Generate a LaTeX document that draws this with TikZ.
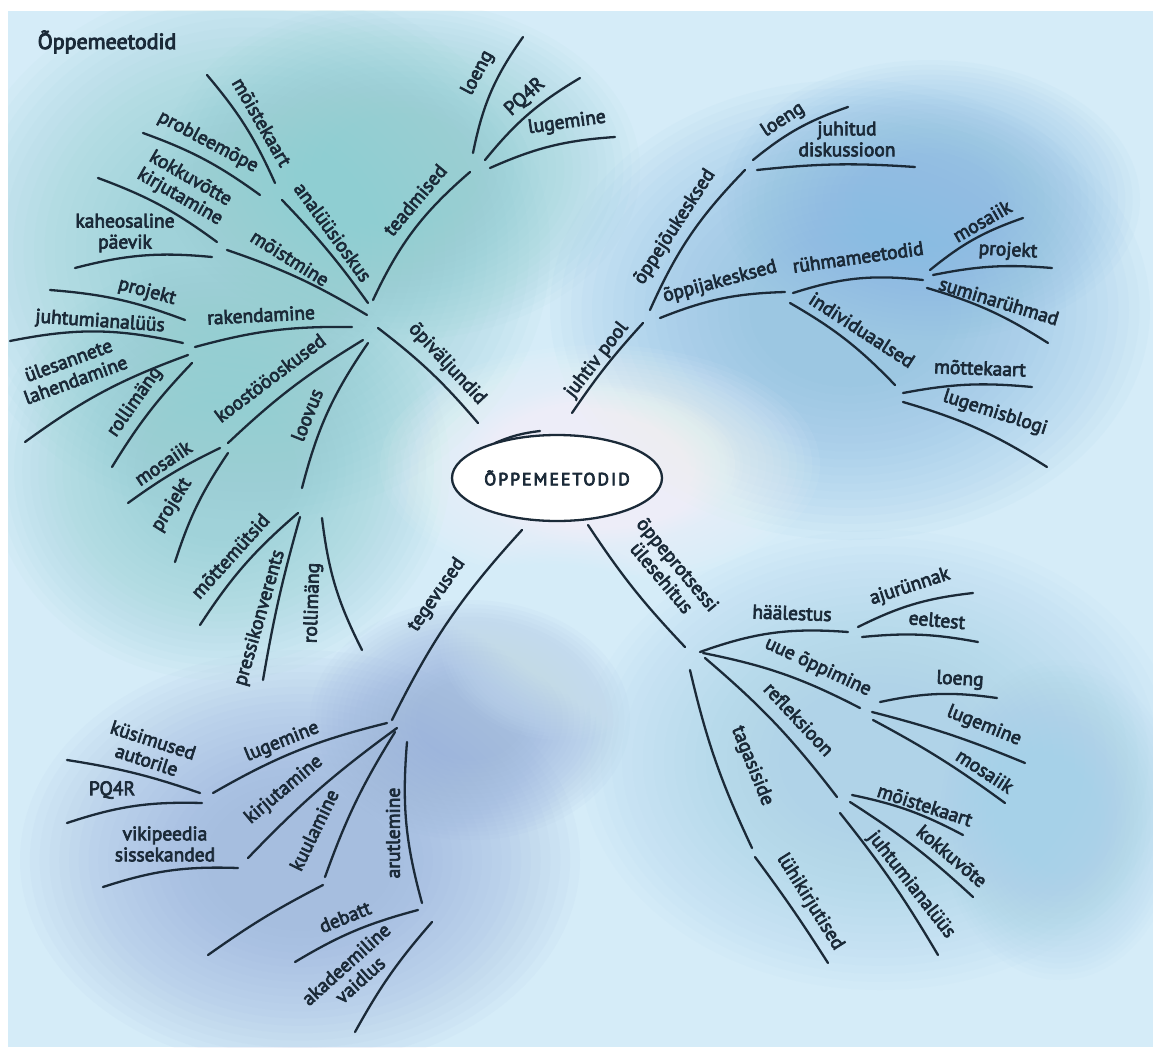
\documentclass[tikz,border=0pt]{standalone}
\usepackage{fontspec}
\setmainfont{PT Sans}[FakeBold=3.6]
\newfontfamily\titlefont{PT Sans}[FakeBold=4]
\newfontfamily\centrefont{PT Sans}[FakeBold=4.4, LetterSpace=12]
\usetikzlibrary{shapes.geometric}
\definecolor{ink}{HTML}{1B2A38}
\definecolor{bgbase}{HTML}{D5ECF8}
\definecolor{teal}{HTML}{8FCED2}
\definecolor{blueur}{HTML}{8ABCE2}
\definecolor{bluell}{HTML}{98B0DC}
\definecolor{bluelr}{HTML}{A6D1E8}
\newcommand\wblob[5]{\foreach \s in {1.0,0.965,...,0.3}{\fill[#5, opacity=0.055] (#1,#2) ellipse[x radius=\s*#3, y radius=\s*#4];}}
\newcommand\br[4]{\coordinate (#1s) at #2; \coordinate (#1e) at #3; \draw[brline] (#1s) to[#4] (#1e);}
\newcommand\lb[4]{\node[lbl, rotate=#3] (#1) at #2 {#4};}
\tikzset{
  brline/.style={draw=ink, line width=2.3pt, line cap=round},
  lbl/.style={font=\fontsize{19.5}{21}\selectfont, text=ink, inner sep=0pt, align=center},
}
\begin{document}
\begin{tikzpicture}[x=1pt,y=-1pt]
\useasboundingbox (0,0) rectangle (1153,1049);
\fill[white] (0,0) rectangle (1153,1049);
\fill[bgbase] (8,11) rectangle (1153,1047);
\begin{scope}
\clip (8,11) rectangle (1153,1047);
\wblob{250}{250}{300}{270}{teal}
\wblob{400}{170}{240}{170}{teal}
\wblob{220}{470}{230}{210}{teal}
\wblob{850}{310}{300}{230}{blueur}
\wblob{930}{200}{210}{140}{blueur}
\wblob{300}{860}{280}{210}{bluell}
\wblob{470}{720}{160}{120}{bluell}
\wblob{880}{760}{300}{230}{bluelr}
\wblob{1060}{820}{120}{160}{bluelr}
\wblob{600}{465}{220}{120}{white}
\wblob{600}{465}{140}{80}{white}
\wblob{560}{640}{120}{100}{bgbase}
\end{scope}

% title
\node[font=\titlefont\fontsize{22}{24}\selectfont, text=ink, inner sep=0pt] (title) at (107,42) {Õppemeetodid};

% centre
\node[ellipse, draw=ink, line width=2.3pt, fill=white, minimum width=210pt, minimum height=86pt, inner sep=0pt,
      font=\centrefont\fontsize{17.5}{19}\selectfont, text=ink] (C) at (557,478) {ÕPPEMEETODID};
\coordinate (ex1) at (495,443);
\coordinate (ex2) at (540,431);
\draw[brline] (ex1) to[bend left=8] (ex2);

% upper-left cluster
\br{t}{(373,300)}{(470,172)}{bend left=12}
\br{tl}{(473,153)}{(523,37)}{bend left=12}
\br{tp}{(485,160)}{(580,78)}{bend left=10}
\br{tg}{(490,168)}{(615,137)}{bend left=10}
\br{an}{(368,303)}{(282,200)}{bend right=4}
\br{amk}{(275,183)}{(207,75)}{bend right=8}
\br{apr}{(260,195)}{(143,133)}{bend right=8}
\br{mo}{(367,315)}{(227,250)}{bend right=6}
\br{mkk}{(217,242)}{(98,178)}{bend right=8}
\br{mkp}{(212,257)}{(75,268)}{bend right=10}
\br{ra}{(352,327)}{(195,347)}{bend right=8}
\br{rpr}{(185,320)}{(50,290)}{bend right=8}
\br{rju}{(183,343)}{(10,341)}{bend right=12}
\br{rul}{(188,355)}{(25,442)}{bend right=8}
\br{rro}{(192,363)}{(112,467)}{bend right=6}
\br{ko}{(363,340)}{(228,443)}{bend right=6}
\br{kmo}{(220,448)}{(128,503)}{bend right=5}
\br{kpr}{(228,453)}{(175,562)}{bend right=8}
\br{lo}{(368,343)}{(302,488)}{bend right=10}
\br{lmm}{(298,513)}{(200,625)}{bend right=8}
\br{lpk}{(300,517)}{(263,680)}{bend right=3}
\br{lro}{(322,518)}{(362,650)}{bend right=10}
\br{op}{(378,328)}{(478,423)}{bend left=6}

\lb{Lt}{(415,200)}{50}{teadmised}
\lb{Ltl}{(478,73)}{62}{loeng}
\lb{Ltp}{(525,97)}{42}{PQ4R}
\lb{Ltg}{(567,123)}{8}{lugemine}
\lb{Lan}{(333,232)}{-54}{analüüsioskus}
\lb{Lamk}{(262,122)}{-60}{mõistekaart}
\lb{Lapr}{(208,142)}{-28}{probleemõpe}
\lb{Lmo}{(290,258)}{-32}{mõistmine}
\lb{Lmkk}{(185,188)}{-30}{kokkuvõtte\\kirjutamine}
\lb{Lmkp}{(125,233)}{0}{kaheosaline\\päevik}
\lb{Lra}{(261,315)}{3}{rakendamine}
\lb{Lrpr}{(147,292)}{-15}{projekt}
\lb{Lrju}{(100,322)}{-4}{juhtumianalüüs}
\lb{Lrul}{(72,370)}{20}{ülesannete\\lahendamine}
\lb{Lrro}{(135,402)}{55}{rollimäng}
\lb{Lko}{(270,378)}{37}{koostööoskused}
\lb{Lkmo}{(163,463)}{34}{mosaiik}
\lb{Lkpr}{(172,505)}{58}{projekt}
\lb{Llo}{(307,415)}{68}{loovus}
\lb{Llmm}{(230,556)}{48}{mõttemütsid}
\lb{Llpk}{(260,618)}{74}{pressikonverents}
\lb{Llro}{(313,603)}{88}{rollimäng}
\lb{Lop}{(447,364)}{-47}{õpiväljundid}

% upper-right cluster
\br{jp}{(572,413)}{(643,323)}{bend left=4}
\br{oj}{(650,310)}{(745,170)}{bend left=10}
\br{ojl}{(753,160)}{(848,107)}{bend left=10}
\br{ojd}{(757,170)}{(915,167)}{bend left=5}
\br{ok}{(660,318)}{(785,292)}{bend left=10}
\br{rm}{(793,293)}{(923,280)}{bend left=12}
\br{rmm}{(930,270)}{(1023,218)}{bend left=10}
\br{rmp}{(933,275)}{(1052,268)}{bend left=8}
\br{rms}{(927,288)}{(1048,343)}{bend left=8}
\br{iv}{(790,303)}{(895,385)}{bend left=8}
\br{ivm}{(903,393)}{(1032,387)}{bend left=8}
\br{ivl}{(903,402)}{(1047,467)}{bend left=8}

\lb{Ljp}{(597,360)}{52}{juhtiv pool}
\lb{Loj}{(675,227)}{57}{õppejõukesksed}
\lb{Lojl}{(783,120)}{33}{loeng}
\lb{Lojd}{(847,139)}{0}{juhitud\\diskussioon}
\lb{Lok}{(720,282)}{15}{õppijakesksed}
\lb{Lrm}{(858,257)}{8}{rühmameetodid}
\lb{Lrmm}{(982,221)}{30}{mosaiik}
\lb{Lrmp}{(1008,251)}{-3}{projekt}
\lb{Lrms}{(999,301)}{-17}{suminarühmad}
\lb{Liv}{(862,330)}{-33}{individuaalsed}
\lb{Livm}{(980,368)}{-2}{mõttekaart}
\lb{Livl}{(995,413)}{-18}{lugemisblogi}

% lower-right cluster
\br{pu}{(588,525)}{(685,647)}{bend right=5}
\br{ha}{(700,652)}{(848,632)}{bend left=12}
\br{haa}{(858,627)}{(973,593)}{bend left=10}
\br{hae}{(862,637)}{(978,642)}{bend left=8}
\br{uo}{(703,653)}{(860,708)}{bend left=8}
\br{uol}{(880,702)}{(997,698)}{bend left=10}
\br{uog}{(872,712)}{(1025,763)}{bend left=4}
\br{uom}{(873,720)}{(1005,803)}{bend left=4}
\br{rf}{(705,658)}{(837,797)}{bend left=6}
\br{rfm}{(852,795)}{(963,835)}{bend left=8}
\br{rfk}{(850,802)}{(973,897)}{bend left=5}
\br{rfj}{(840,813)}{(938,955)}{bend left=4}
\br{ts}{(690,670)}{(752,848)}{bend right=6}
\br{tsl}{(755,857)}{(828,963)}{bend left=2}

\lb{Lpu}{(670,571)}{-50}{õppeprotsessi\\ülesehitus}
\lb{Lha}{(792,613)}{-2}{häälestus}
\lb{Lhaa}{(910,587)}{18}{ajurünnak}
\lb{Lhae}{(937,620)}{-5}{eeltest}
\lb{Luo}{(818,667)}{-25}{uue õppimine}
\lb{Luol}{(960,680)}{-3}{loeng}
\lb{Luog}{(984,726)}{-22}{lugemine}
\lb{Luom}{(985,771)}{-33}{mosaiik}
\lb{Lrf}{(799,719)}{-47}{refleksioon}
\lb{Lrfm}{(925,805)}{-18}{mõistekaart}
\lb{Lrfk}{(952,856)}{-40}{kokkuvõte}
\lb{Lrfj}{(911,885)}{-52}{juhtumianalüüs}
\lb{Lts}{(752,766)}{-68}{tagasiside}
\lb{Ltsl}{(810,902)}{-58}{lühikirjutised}

% lower-left cluster
\br{te}{(522,530)}{(392,720)}{bend right=8}
\br{le}{(387,723)}{(213,793)}{bend right=8}
\br{lek}{(200,793)}{(67,760)}{bend right=5}
\br{lep}{(202,803)}{(67,823)}{bend right=10}
\br{ki}{(397,728)}{(248,858)}{bend right=5}
\br{kiv}{(238,868)}{(103,887)}{bend right=10}
\br{ku}{(395,732)}{(325,877)}{bend right=6}
\br{kub}{(323,885)}{(208,955)}{bend right=4}
\br{ar}{(407,742)}{(422,903)}{bend right=10}
\br{ard}{(418,910)}{(295,962)}{bend right=8}
\br{ara}{(432,922)}{(355,1032)}{bend right=6}

\lb{Lte}{(437,595)}{55}{tegevused}
\lb{Lle}{(282,742)}{22}{lugemine}
\lb{Llek}{(150,750)}{-18}{küsimused\\autorile}
\lb{Llep}{(112,790)}{0}{PQ4R}
\lb{Lki}{(284,790)}{40}{kirjutamine}
\lb{Lkiv}{(165,844)}{0}{vikipeedia\\sissekanded}
\lb{Lku}{(314,830)}{64}{kuulamine}
\lb{Lar}{(393,833)}{90}{arutlemine}
\lb{Lard}{(345,917)}{22}{debatt}
\lb{Lara}{(353,972)}{42}{akadeemiline\\vaidlus}
\end{tikzpicture}
\end{document}
